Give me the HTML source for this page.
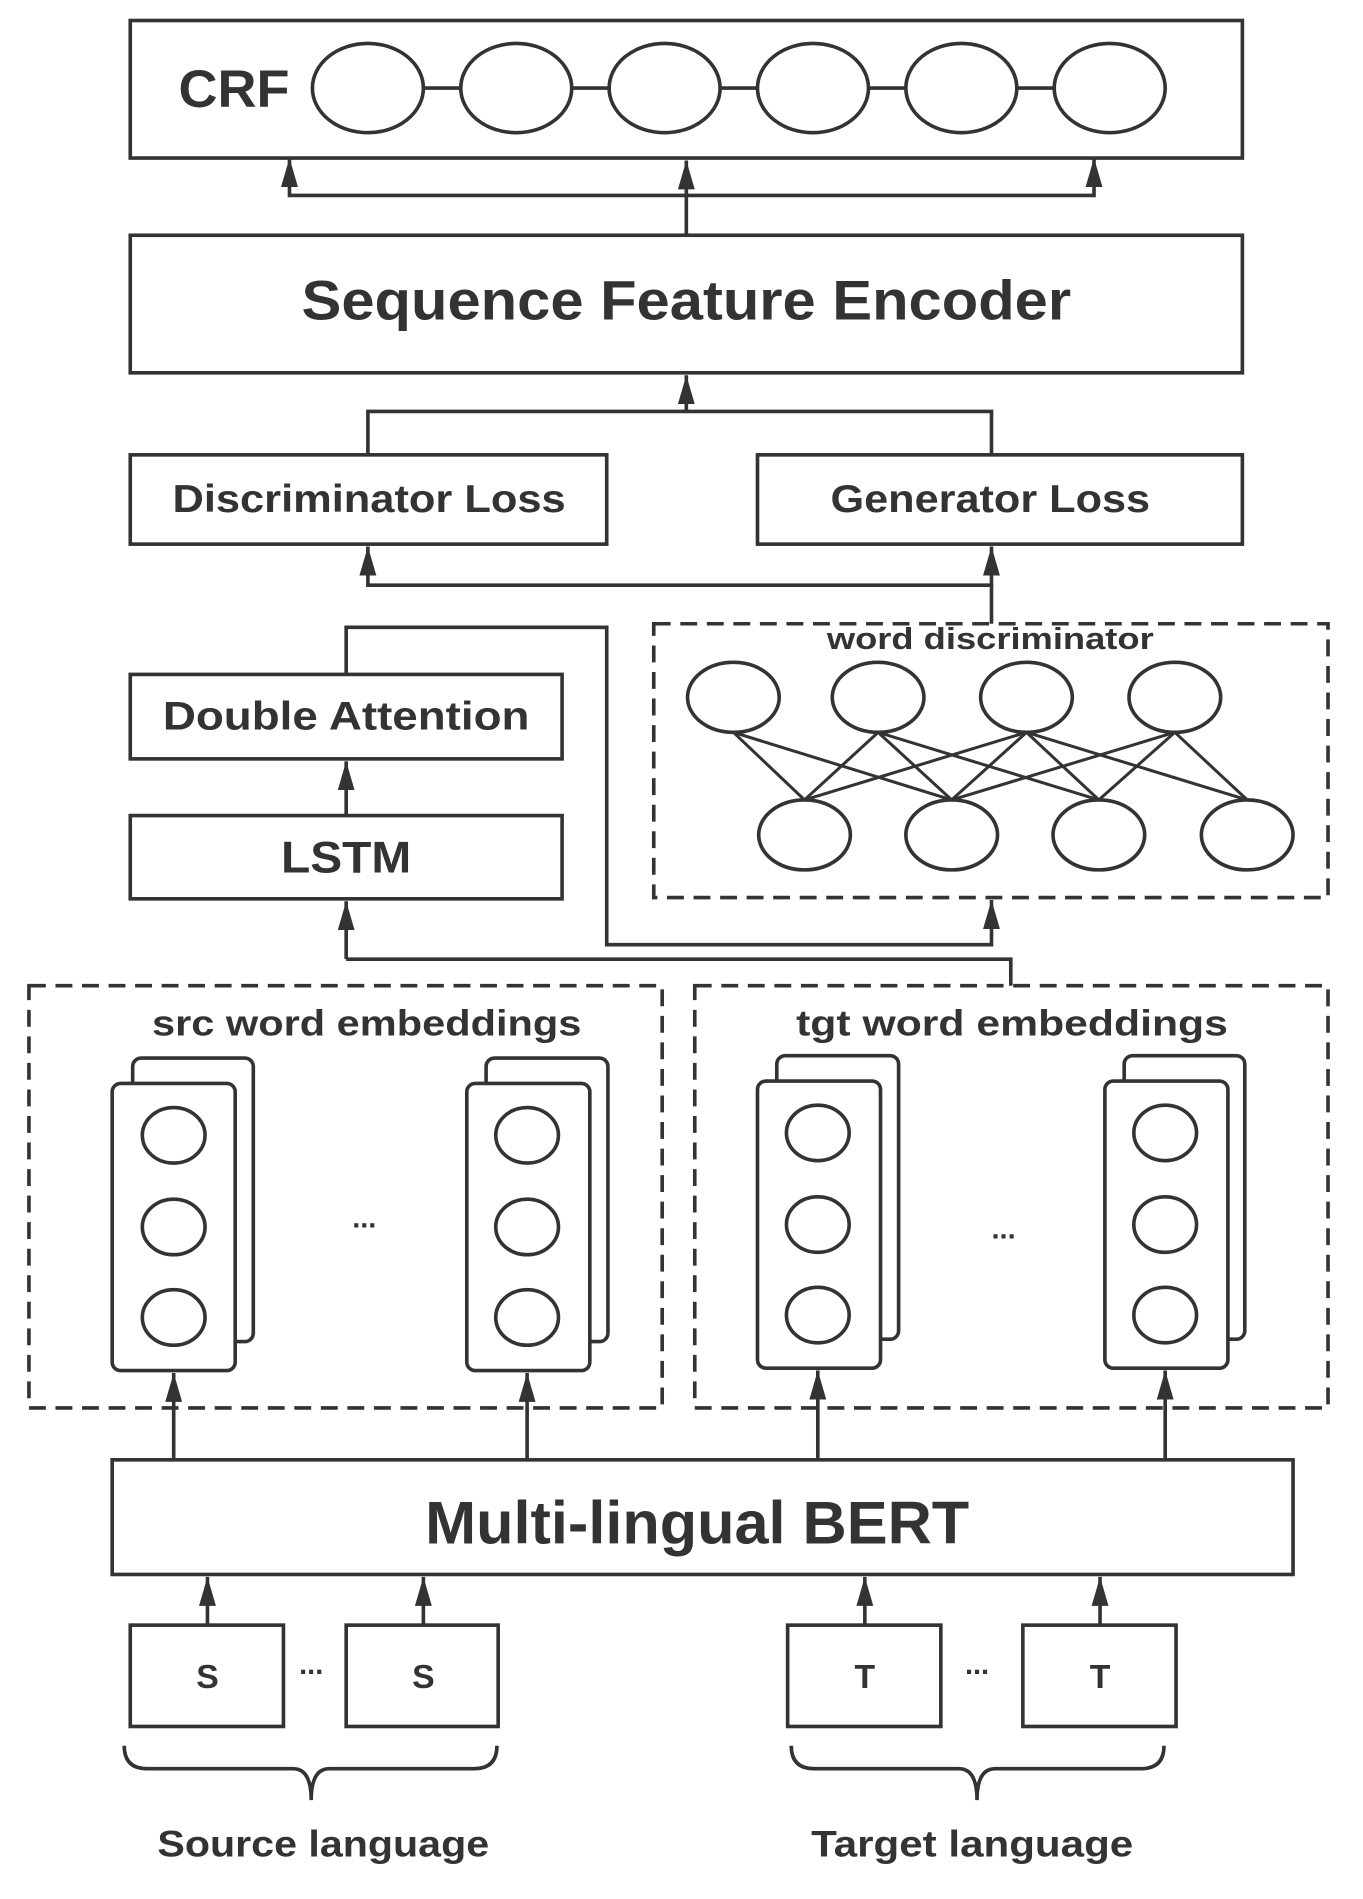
<!DOCTYPE html>
<html><head><meta charset="utf-8"><style>html,body{margin:0;padding:0;background:#fff}svg{display:block}text{font-family:"Liberation Sans","DejaVu Sans",sans-serif;font-weight:bold;fill:#333;text-anchor:middle;dominant-baseline:central}</style></head><body>
<svg width="1363" height="1899" viewBox="0 0 1130 1574" preserveAspectRatio="none" xmlns="http://www.w3.org/2000/svg">
<defs>
<marker id="ah" viewBox="0 0 14 24" refX="7" refY="0" markerWidth="14" markerHeight="24" markerUnits="userSpaceOnUse" orient="0"><path d="M0,24 L7,0 L14,24Z" fill="#333"/></marker></defs>
<g fill="none" stroke="#333" stroke-width="3">
<rect x="108" y="17" width="922" height="114"/>
<line x1="305" y1="73" x2="920" y2="73"/>
</g>
<g fill="#fff" stroke="#333" stroke-width="3">
<ellipse cx="305" cy="73" rx="46" ry="37"/><ellipse cx="428" cy="73" rx="46" ry="37"/><ellipse cx="551" cy="73" rx="46" ry="37"/><ellipse cx="674" cy="73" rx="46" ry="37"/><ellipse cx="797" cy="73" rx="46" ry="37"/><ellipse cx="920" cy="73" rx="46" ry="37"/>
</g>
<text x="194" y="74" font-size="44" textLength="92" lengthAdjust="spacingAndGlyphs">CRF</text>
<g fill="none" stroke="#333" stroke-width="3">
<polyline points="240,131 240,162 907,162 907,131" marker-start="url(#ah)" marker-end="url(#ah)"/>
<line x1="569" y1="195" x2="569" y2="133" marker-end="url(#ah)"/>
<rect x="108" y="195" width="922" height="114"/>
<line x1="569" y1="341" x2="569" y2="311" marker-end="url(#ah)"/>
<polyline points="305,377 305,341 822,341 822,377"/>
<rect x="108" y="377" width="395" height="74"/>
<rect x="628" y="377" width="402" height="74"/>
<polyline points="305,453 305,485 822,485 822,453" marker-start="url(#ah)" marker-end="url(#ah)"/>
<line x1="822" y1="485" x2="822" y2="517"/>
<rect x="542" y="517" width="559" height="227" stroke-dasharray="14,8"/>
<rect x="108" y="559" width="358" height="70"/>
<polyline points="287,559 287,520 503,520 503,783 822,783 822,746" marker-end="url(#ah)"/>
<line x1="287" y1="676" x2="287" y2="631" marker-end="url(#ah)"/>
<rect x="108" y="676" width="358" height="69"/>
<line x1="287" y1="795" x2="287" y2="747" marker-end="url(#ah)"/>
<polyline points="287,795 838,795 838,817"/>
<rect x="24" y="817" width="525" height="350" stroke-dasharray="14,8"/>
<rect x="576" y="817" width="525" height="350" stroke-dasharray="14,8"/>
<g stroke-width="2.5">
<line x1="608" y1="607" x2="667" y2="663"/><line x1="608" y1="607" x2="789" y2="663"/>
<line x1="728" y1="607" x2="667" y2="663"/><line x1="728" y1="607" x2="789" y2="663"/><line x1="728" y1="607" x2="911" y2="663"/>
<line x1="851" y1="607" x2="667" y2="663"/><line x1="851" y1="607" x2="789" y2="663"/><line x1="851" y1="607" x2="911" y2="663"/><line x1="851" y1="607" x2="1034" y2="663"/>
<line x1="974" y1="607" x2="789" y2="663"/><line x1="974" y1="607" x2="911" y2="663"/><line x1="974" y1="607" x2="1034" y2="663"/>
</g>
</g>
<g fill="#fff" stroke="#333" stroke-width="3">
<ellipse cx="608" cy="578" rx="38" ry="29"/><ellipse cx="728" cy="578" rx="38" ry="29"/><ellipse cx="851" cy="578" rx="38" ry="29"/><ellipse cx="974" cy="578" rx="38" ry="29"/>
<ellipse cx="667" cy="692" rx="38" ry="29"/><ellipse cx="789" cy="692" rx="38" ry="29"/><ellipse cx="911" cy="692" rx="38" ry="29"/><ellipse cx="1034" cy="692" rx="38" ry="29"/>
<rect x="110" y="877" width="100" height="235" rx="7"/><rect x="93" y="898" width="102" height="238" rx="7"/>
<rect x="403" y="877" width="101" height="235" rx="7"/><rect x="387" y="898" width="102" height="238" rx="7"/>
<rect x="644" y="875" width="101" height="235" rx="7"/><rect x="628" y="896" width="102" height="238" rx="7"/>
<rect x="932" y="875" width="100" height="235" rx="7"/><rect x="916" y="896" width="102" height="238" rx="7"/>
<ellipse cx="144" cy="941" rx="26" ry="23"/><ellipse cx="144" cy="1017" rx="26" ry="23"/><ellipse cx="144" cy="1092" rx="26" ry="23"/>
<ellipse cx="437" cy="941" rx="26" ry="23"/><ellipse cx="437" cy="1017" rx="26" ry="23"/><ellipse cx="437" cy="1092" rx="26" ry="23"/>
<ellipse cx="678" cy="939" rx="26" ry="23"/><ellipse cx="678" cy="1015" rx="26" ry="23"/><ellipse cx="678" cy="1090" rx="26" ry="23"/>
<ellipse cx="966" cy="939" rx="26" ry="23"/><ellipse cx="966" cy="1015" rx="26" ry="23"/><ellipse cx="966" cy="1090" rx="26" ry="23"/>
</g>
<g fill="none" stroke="#333" stroke-width="3">
<line x1="144" y1="1210" x2="144" y2="1138" marker-end="url(#ah)"/>
<line x1="437" y1="1210" x2="437" y2="1138" marker-end="url(#ah)"/>
<line x1="678" y1="1210" x2="678" y2="1136" marker-end="url(#ah)"/>
<line x1="966" y1="1210" x2="966" y2="1136" marker-end="url(#ah)"/>
<rect x="93" y="1210" width="979" height="95"/>
<line x1="172" y1="1347" x2="172" y2="1307" marker-end="url(#ah)"/>
<line x1="351" y1="1347" x2="351" y2="1307" marker-end="url(#ah)"/>
<line x1="717" y1="1347" x2="717" y2="1307" marker-end="url(#ah)"/>
<line x1="912" y1="1347" x2="912" y2="1307" marker-end="url(#ah)"/>
<rect x="108" y="1347" width="127" height="84"/><rect x="287" y="1347" width="126" height="84"/>
<rect x="653" y="1347" width="127" height="84"/><rect x="848" y="1347" width="127" height="84"/>
<path d="M103,1447 Q103,1466 122,1466 L243,1466 Q258,1466 258,1492 Q258,1466 273,1466 L393,1466 Q412,1466 412,1447"/>
<path d="M656,1447 Q656,1466 675,1466 L795,1466 Q810,1466 810,1492 Q810,1466 825,1466 L946,1466 Q965,1466 965,1447"/>
</g>
<text x="569" y="249" font-size="46" textLength="638" lengthAdjust="spacingAndGlyphs">Sequence Feature Encoder</text>
<text x="306" y="414" font-size="32" textLength="326" lengthAdjust="spacingAndGlyphs">Discriminator Loss</text>
<text x="821" y="414" font-size="32" textLength="265" lengthAdjust="spacingAndGlyphs">Generator Loss</text>
<text x="821" y="530" font-size="25" textLength="271" lengthAdjust="spacingAndGlyphs">word discriminator</text>
<text x="287" y="594" font-size="33" textLength="304" lengthAdjust="spacingAndGlyphs">Double Attention</text>
<text x="287" y="711" font-size="37" textLength="108" lengthAdjust="spacingAndGlyphs">LSTM</text>
<text x="304" y="848" font-size="30" textLength="356" lengthAdjust="spacingAndGlyphs">src word embeddings</text>
<text x="839" y="848" font-size="30" textLength="358" lengthAdjust="spacingAndGlyphs">tgt word embeddings</text>
<text x="302" y="1010" font-size="24">...</text>
<text x="832" y="1019" font-size="24">...</text>
<text x="578" y="1262" font-size="50" textLength="451" lengthAdjust="spacingAndGlyphs">Multi-lingual BERT</text>
<text x="172" y="1390" font-size="28">S</text><text x="351" y="1390" font-size="28">S</text>
<text x="717" y="1390" font-size="28">T</text><text x="912" y="1390" font-size="28">T</text>
<text x="258" y="1380" font-size="24">...</text><text x="810" y="1380" font-size="24">...</text>
<text x="268" y="1528" font-size="31" textLength="275" lengthAdjust="spacingAndGlyphs">Source language</text>
<text x="806" y="1528" font-size="31" textLength="267" lengthAdjust="spacingAndGlyphs">Target language</text>
</svg>
</body></html>
